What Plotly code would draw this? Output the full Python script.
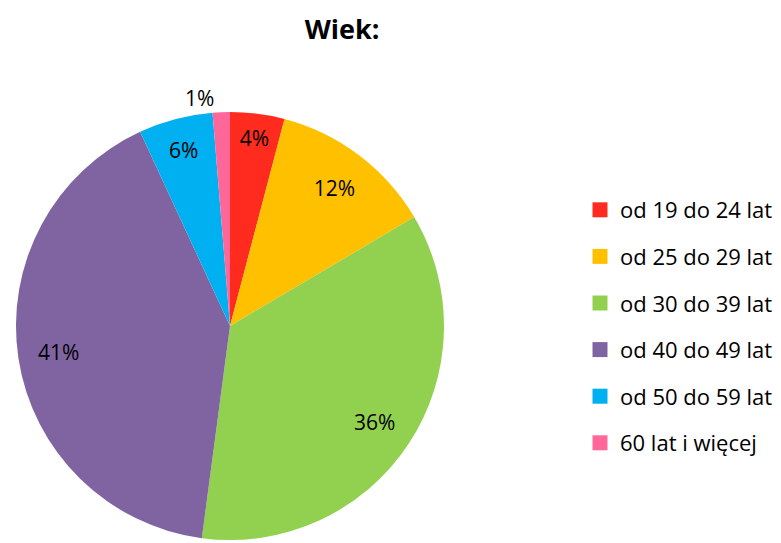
import plotly.graph_objects as go

# Wiek respondentów (%)
labels = ['od 19 do 24 lat', 'od 25 do 29 lat', 'od 30 do 39 lat',
          'od 40 do 49 lat', 'od 50 do 59 lat', '60 lat i więcej']
shares = [4.1, 12.4, 35.6, 41.0, 5.6, 1.3]
colors = ['#FF2B1F', '#FFC000', '#92D050', '#8064A2', '#00B0F0', '#FF6699']
text_pos = ['inside', 'inside', 'inside', 'inside', 'inside', 'outside']

FONT = 'Open Sans'
# page body has an 8px margin, so positions are shifted back by 8px
domain = dict(x=[8 / 781, 436 / 781], y=[11 / 543, 439 / 543])

fig = go.Figure()

# full coloured pie
fig.add_trace(go.Pie(
    labels=labels, values=shares, sort=False, direction='clockwise', rotation=0,
    marker=dict(colors=colors, line=dict(width=0)),
    textinfo='none', hoverinfo='skip', showlegend=False, domain=domain,
))

# transparent ring carrying the percentage labels (puts text at ~0.8 R)
fig.add_trace(go.Pie(
    labels=labels, values=shares, sort=False, direction='clockwise', rotation=0,
    hole=0.62,
    marker=dict(colors=['rgba(0,0,0,0)'] * len(labels), line=dict(width=0)),
    texttemplate='%{percent:.0%}', textposition=text_pos,
    insidetextorientation='horizontal',
    textfont=dict(family=FONT, size=21, color='black'),
    hoverinfo='skip', showlegend=False, domain=domain,
))

# legend entries
for lab, col in zip(labels, colors):
    fig.add_trace(go.Scatter(
        x=[None], y=[None], mode='markers', name=lab, legendgroup=lab,
        marker=dict(symbol='square', size=15, color=col),
    ))

fig.update_layout(
    width=781, height=543,
    margin=dict(l=0, r=0, t=0, b=0),
    paper_bgcolor='white', plot_bgcolor='white',
    font=dict(family=FONT, color='black'),
    title=dict(text='<b>Wiek:</b>', x=334 / 781, xanchor='center',
               y=1 - 22 / 543, yanchor='middle',
               font=dict(family=FONT, size=27, color='black')),
    legend=dict(x=572 / 781, xanchor='left', y=1 - 181 / 543, yanchor='top',
                font=dict(family=FONT, size=22, color='black'),
                tracegroupgap=15, itemclick=False),
    xaxis=dict(visible=False), yaxis=dict(visible=False),
)

fig.write_html("out.html")
